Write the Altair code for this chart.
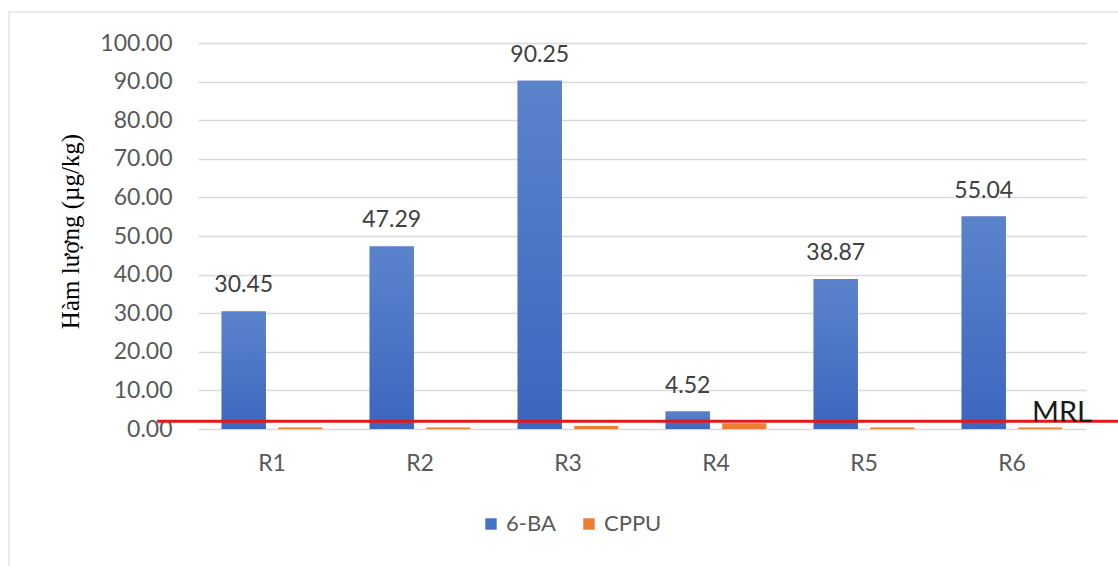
import altair as alt
import pandas as pd

# Sample regions and measured hormone content (µg/kg)
regions = ["R1", "R2", "R3", "R4", "R5", "R6"]
ba_values = [30.45, 47.29, 90.25, 4.52, 38.87, 55.04]
cppu_values = [0.4, 0.4, 0.8, 1.5, 0.4, 0.4]
series_names = ["6-BA", "CPPU"]
mrl_value = 2.0
mrl_label = "MRL"
y_ticks = [0, 10, 20, 30, 40, 50, 60, 70, 80, 90, 100]

rows = []
for r, a, c in zip(regions, ba_values, cppu_values):
    rows.append({"region": r, "series": series_names[0], "value": a})
    rows.append({"region": r, "series": series_names[1], "value": c})
df = pd.DataFrame(rows)
ba_df = df[df["series"] == series_names[0]]
mrl_df = pd.DataFrame({"mrl": [mrl_value], "label": [mrl_label]})

FONT = "Lato"
GRAY = "#595959"

x_scale = alt.Scale(paddingInner=0.32, paddingOuter=0.16)
x_axis = alt.Axis(
    title=None, labelFontSize=23, labelColor=GRAY, labelFont=FONT,
    labelPadding=23, ticks=False, domain=False, labelAngle=0,
)
y_scale = alt.Scale(domain=[0, 100], nice=False)
y_axis = alt.Axis(
    title="Hàm lượng (µg/kg)", titleFont="Liberation Serif", titleFontSize=25,
    titleFontWeight="normal", titleColor="#000000",
    titleX=-128, titleY=188, titleAngle=-90, titleAlign="center",
    titleBaseline="middle",
    values=y_ticks, tickCount=11, format=".2f", labelFontSize=23,
    labelColor=GRAY, labelFont=FONT, labelPadding=26, labelOverlap=False,
    ticks=False, domain=False,
    grid=True, gridColor="#d9d9d9", gridWidth=1.5,
)
off_scale = alt.Scale(paddingInner=0.22)

x_enc = alt.X("region:N", sort=regions, scale=x_scale, axis=x_axis)
off_enc = alt.XOffset("series:N", sort=series_names, scale=off_scale)

bars = alt.Chart(df).mark_bar().encode(
    x=x_enc,
    xOffset=off_enc,
    y=alt.Y("value:Q", scale=y_scale, axis=y_axis),
    color=alt.Color(
        "series:N",
        sort=series_names,
        scale=alt.Scale(domain=series_names, range=["#4472C4", "#ED7D31"]),
        legend=alt.Legend(
            title=None, orient="none", direction="horizontal",
            legendX=282, legendY=470, symbolType="square", symbolSize=130,
            labelFontSize=22, labelColor=GRAY, labelFont=FONT,
            columnPadding=22, symbolStrokeWidth=0,
        ),
    ),
)

# soft vertical shading on the 6-BA bars, lighter toward the top
ba_shade = alt.Chart(ba_df).mark_bar(
    color=alt.Gradient(
        gradient="linear",
        stops=[alt.GradientStop(color="#5b83cc", offset=0),
               alt.GradientStop(color="#3c66bf", offset=1)],
        x1=0, x2=0, y1=0, y2=1,
    )
).encode(
    x=x_enc,
    xOffset=off_enc,
    y=alt.Y("value:Q", scale=y_scale, axis=y_axis),
)

labels = alt.Chart(ba_df).mark_text(
    baseline="bottom", dy=-14, fontSize=23, color="#404040", font=FONT,
).encode(
    x=x_enc,
    xOffset=off_enc,
    y=alt.Y("value:Q", scale=y_scale, axis=y_axis),
    text=alt.Text("value:Q", format=".2f"),
)

mrl_line = alt.Chart(mrl_df).mark_rule(color="#e0191b", strokeWidth=3).encode(
    y=alt.Y("mrl:Q", scale=y_scale, axis=y_axis),
    x=alt.value(-41),
    x2=alt.value(920),
)

mrl_text = alt.Chart(mrl_df).mark_text(
    align="left", baseline="alphabetic", fontSize=29, color="#1a1a1a",
    font=FONT, dy=1,
).encode(
    y=alt.Y("mrl:Q", scale=y_scale, axis=y_axis),
    x=alt.value(834),
    text="label:N",
)

frame = alt.Chart(mrl_df).mark_rect(
    fill=None, stroke="#e3e3e3", strokeWidth=1.5,
).encode(
    x=alt.value(-189), x2=alt.value(930),
    y=alt.value(-31), y2=alt.value(540),
)

chart = alt.layer(frame, bars, ba_shade, labels, mrl_line, mrl_text).resolve_scale(
    x="shared", y="shared"
).properties(
    width=888, height=386,
    autosize=alt.AutoSizeParams(type="none"),
    padding={"left": 198, "top": 43, "right": 32, "bottom": 137},
    background="#ffffff",
).configure_view(stroke=None)

chart.save("out.html", embed_options={"renderer": "svg", "actions": False})
